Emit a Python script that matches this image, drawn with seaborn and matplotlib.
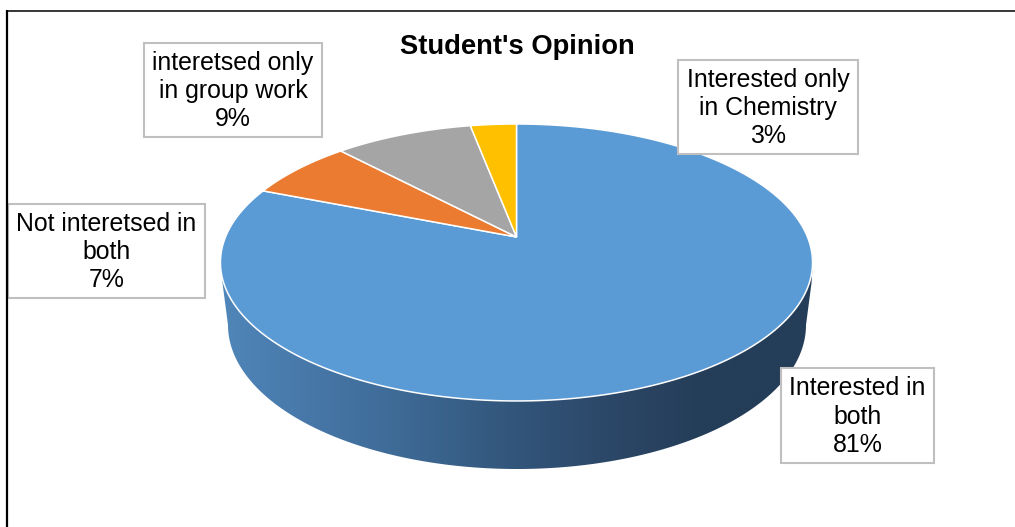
import numpy as np
import matplotlib
matplotlib.use("Agg")
import matplotlib.pyplot as plt
import seaborn as sns
from matplotlib.colors import LinearSegmentedColormap
from matplotlib.patches import Polygon, Rectangle

categories = ["Interested in\nboth", "Not interetsed in\nboth", "interetsed only\nin group work", "Interested only\nin Chemistry"]
shares = [81, 7, 9, 3]
slice_colours = ["#5B9BD5", "#EB7B30", "#A5A5A5", "#FFC000"]

W, H = 1015, 527
APEX_X, APEX_Y = 516.5, 237
# tilt of the disc: the apex sits above the centre of the drawn ellipse
A, B, C = 133.8, 0.184, 291.0


def project(theta):
    """ Projects angles on the unit circle to pixels on the tilted disc. """
    x, y = np.cos(theta), np.sin(theta)
    return np.column_stack([APEX_X + C * x / (1 + B * y), APEX_Y - A * y / (1 + B * y)])


def ellipse(cx, cy, a, b, t0, t1):
    t = np.radians(np.linspace(t0, t1, 200))
    return np.column_stack([cx + a * np.cos(t), cy - b * np.sin(t)])


sns.set_theme(style="white")
plt.rcParams["font.family"] = ["Liberation Sans", "DejaVu Sans"]

fig, ax = plt.subplots(figsize=(W / 100, H / 100), dpi=100)
fig.subplots_adjust(0, 0, 1, 1)

wedges, _ = ax.pie(shares, startangle=90, counterclock=False, colors=sns.color_palette(slice_colours))

ax.set_aspect("auto")
ax.set_xlim(0, W)
ax.set_ylim(H, 0)
ax.set_axis_off()

# side wall of the disc, shaded left to right
wall = np.vstack([ellipse(517, 262.5, 296, 138.5, 180, 0), [[811.5, 283]],
                  ellipse(517, 325, 289, 144, 0, -180), [[222.5, 283]]])
shade = LinearSegmentedColormap.from_list(
    "wall", [(0, "#5086B9"), (0.1, "#4A7CAE"), (0.3, "#3E6A96"), (0.5, "#32557A"), (0.7, "#2A4463"), (0.82, "#243D58"), (1, "#243D58")])
im = ax.imshow(np.linspace(0, 1, 256).reshape(1, -1), cmap=shade, extent=(221, 813, 475, 270), aspect="auto", zorder=1)
im.set_clip_path(Polygon(wall, closed=True, transform=ax.transData))
ax.set_xlim(0, W)
ax.set_ylim(H, 0)

# angles come from the pie, then each slice is laid on the tilted disc
for w in wedges:
    theta = np.radians(np.linspace(w.theta1, w.theta2, 300))
    pts = np.vstack([[APEX_X, APEX_Y], project(theta)])
    ax.add_patch(Polygon(pts, closed=True, facecolor=w.get_facecolor(), edgecolor="white", lw=1.1, zorder=2))
    w.remove()

# data label boxes
boxes = [(781, 368, 153, 95), (8, 204, 197, 94), (144, 43, 178, 94), (678, 60, 180, 94)]
for name, share, (x, y, bw, bh) in zip(categories, shares, boxes):
    ax.add_patch(Rectangle((x, y), bw, bh, facecolor="white", edgecolor="#BFBFBF", lw=1.5, zorder=3))
    ax.text(x + bw / 2, y + bh / 2 + 1, f"{name}\n{share}%", ha="center", va="center",
            fontsize=17.9, color="black", linespacing=1.22, zorder=4)

fig.suptitle("Student's Opinion", x=517 / W, y=1 - 47 / H, va="center", fontsize=19.7, fontweight="bold", color="black")

# outer frame of the original figure
ax.plot([7, 7], [H, 10], color="black", lw=1.6, zorder=5, solid_capstyle="butt", clip_on=False)
ax.plot([7, W], [10.5, 10.5], color="black", lw=1.1, zorder=5, solid_capstyle="butt", clip_on=False)

plt.savefig("out.png", dpi=100)
plt.close()
